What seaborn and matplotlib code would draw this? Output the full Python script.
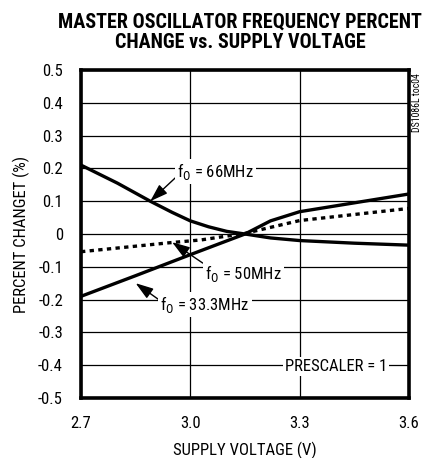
import numpy as np
import pandas as pd
import matplotlib
matplotlib.use("Agg")
import matplotlib.pyplot as plt
from matplotlib import font_manager as fm
import seaborn as sns

# values
volts_66 = [2.70, 2.80, 2.89, 2.95, 3.00, 3.05, 3.10, 3.15, 3.22, 3.30, 3.45, 3.60]
pct_66 = [0.21, 0.155, 0.10, 0.066, 0.04, 0.022, 0.008, 0.0, -0.012, -0.02, -0.028, -0.034]

volts_50 = [2.70, 2.94, 3.03, 3.15, 3.30, 3.60]
pct_50 = [-0.054, -0.027, -0.018, 0.002, 0.041, 0.078]

volts_33 = [2.70, 2.85, 3.00, 3.15, 3.22, 3.30, 3.45, 3.60]
pct_33 = [-0.19, -0.127, -0.063, 0.0, 0.04, 0.068, 0.095, 0.122]

xticks = [2.7, 3.0, 3.3, 3.6]
xtick_labels = ["2.7", "3.0", "3.3", "3.6"]
yticks = [-0.5, -0.4, -0.3, -0.2, -0.1, 0, 0.1, 0.2, 0.3, 0.4, 0.5]
ytick_labels = ["-0.5", "-0.4", "-0.3", "-0.2", "-0.1", "0", "0.1", "0.2", "0.3", "0.4", "0.5"]

sns.set_style("white")

# pick a narrow face if one is installed
names = {f.name for f in fm.fontManager.ttflist}
narrow = next((n for n in ['Liberation Sans Narrow', 'Roboto Condensed', 'Open Sans Condensed']
               if n in names), None)
if narrow:
    plt.rcParams['font.family'] = [narrow, 'DejaVu Sans']
else:
    plt.rcParams['font.family'] = ['DejaVu Sans']
    if any(f.name == 'DejaVu Sans' and f.stretch == 'condensed' for f in fm.fontManager.ttflist):
        plt.rcParams['font.stretch'] = 'condensed'
for k in ['text.color', 'axes.labelcolor', 'xtick.color', 'ytick.color']:
    plt.rcParams[k] = 'black'

fs = 12 if narrow else 10

fig = plt.figure(figsize=(4.28, 4.58), dpi=100)
ax = fig.add_axes([81 / 428, 1 - 398 / 458, 328 / 428, 328 / 458])

df66 = pd.DataFrame({'v': volts_66, 'p': pct_66})
df50 = pd.DataFrame({'v': volts_50, 'p': pct_50})
df33 = pd.DataFrame({'v': volts_33, 'p': pct_33})

sns.lineplot(data=df66, x='v', y='p', ax=ax, color='black', lw=2.4, zorder=4)
sns.lineplot(data=df33, x='v', y='p', ax=ax, color='black', lw=2.4, zorder=4)
sns.lineplot(data=df50, x='v', y='p', ax=ax, color='black', lw=2.4,
             linestyle=(0, (1.3, 1.3)), zorder=4)

ax.set_xlim(2.7, 3.6)
ax.set_ylim(-0.5, 0.5)
ax.set_xticks(xticks)
ax.set_xticklabels(xtick_labels)
ax.set_yticks(yticks)
ax.set_yticklabels(ytick_labels)
ax.tick_params(length=0, labelsize=fs)
ax.tick_params(axis='x', pad=13)
ax.tick_params(axis='y', pad=13)
ax.grid(True, color='black', lw=0.9)
ax.set_axisbelow(True)
for s in ax.spines.values():
    s.set_linewidth(2.6)
    s.set_color('black')

ax.set_xlabel('SUPPLY VOLTAGE (V)', fontsize=fs, labelpad=8)
ax.set_ylabel('PERCENT CHANGET (%)', fontsize=fs, labelpad=6)

fig.text(240 / 428, 1 - 32 / 458, 'MASTER OSCILLATOR FREQUENCY PERCENT\nCHANGE vs. SUPPLY VOLTAGE',
         ha='center', va='center', fontsize=14.5 if narrow else 10.5, fontweight='bold',
         linespacing=1.1)

box = dict(facecolor='white', edgecolor='none', pad=1.5)
arrow = dict(arrowstyle='-|>,head_length=0.9,head_width=0.3', color='black', lw=1.0,
             shrinkA=0, shrinkB=0)

ax.annotate('f$_0$ = 66MHz', xy=(2.89, 0.10), xytext=(3.07, 0.19),
            ha='center', va='center', fontsize=fs, bbox=box, zorder=5,
            arrowprops=dict(arrow, relpos=(0.0, 0.3)))
ax.annotate('f$_0$ = 50MHz', xy=(2.95, -0.025), xytext=(3.145, -0.12),
            ha='center', va='center', fontsize=fs, bbox=box, zorder=5,
            arrowprops=dict(arrow, relpos=(0.05, 0.8)))
ax.annotate('f$_0$ = 33.3MHz', xy=(2.85, -0.15), xytext=(3.04, -0.216),
            ha='center', va='center', fontsize=fs, bbox=box, zorder=5,
            arrowprops=dict(arrow, relpos=(0.0, 0.7)))
ax.text(3.40, -0.405, 'PRESCALER = 1', ha='center', va='center', fontsize=fs,
        bbox=box, zorder=5)

fig.text(417 / 428, 1 - 103 / 458, 'DS1086L toc04', rotation=90, ha='center', va='center',
         fontsize=7)

fig.savefig('out.png', dpi=100)
